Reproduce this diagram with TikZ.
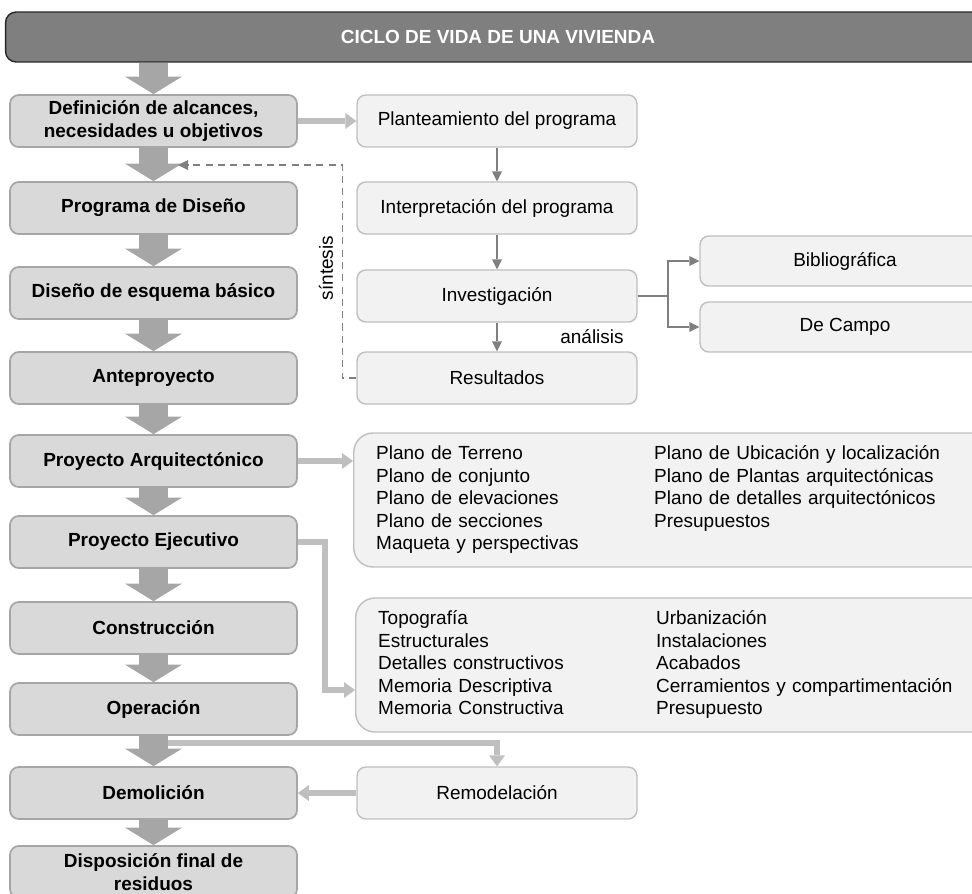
\documentclass[tikz,border=0pt]{standalone}
\usepackage{fontspec}
\setmainfont{Liberation Sans}
\usetikzlibrary{arrows.meta,calc}
\definecolor{hdrgray}{HTML}{7F7F7F}
\definecolor{stagefill}{HTML}{D9D9D9}
\definecolor{stageline}{HTML}{A6A6A6}
\definecolor{subfill}{HTML}{F2F2F2}
\definecolor{subline}{HTML}{BFBFBF}
\definecolor{fatgray}{HTML}{A6A6A6}
\definecolor{linkgray}{HTML}{BFBFBF}
\definecolor{flowgray}{HTML}{7F7F7F}
\newcommand{\boxfont}{\fontsize{10.8}{12.8}\selectfont}

\begin{document}
\begin{tikzpicture}[x=0.02cm, y=-0.02cm,
    header/.style={rectangle, rounded corners=6pt, draw=black!85, line width=0.8pt,
                   fill=hdrgray, text=white, font=\boxfont\bfseries,
                   minimum width=19.7cm, minimum height=1cm},
    stagebox/.style={rectangle, rounded corners=5pt, draw=stageline, line width=1pt,
                     fill=stagefill, minimum width=5.74cm, minimum height=1.04cm,
                     align=center, font=\boxfont\bfseries},
    subbox/.style={rectangle, rounded corners=5pt, draw=subline, line width=0.8pt,
                   fill=subfill, minimum width=5.6cm, minimum height=1.04cm,
                   align=center, font=\boxfont},
    listbox/.style={subbox, rounded corners=11pt, anchor=west, minimum width=12.8cm,
                    minimum height=2.68cm, inner xsep=0.44cm, text width=11.9cm, align=left},
    bigarrow/.style={draw=fatgray, line width=0.58cm,
                     -{Triangle[length=0.35cm,width=1.14cm,line width=0pt]}},
    link/.style={draw=linkgray, line width=0.11cm,
                 -{Triangle[length=0.22cm,width=0.32cm,line width=0pt]}},
    flow/.style={draw=flowgray, line width=0.7pt,
                 -{Triangle[length=0.2cm,width=0.2cm,line width=0pt]}},
    synth/.style={flow, dash pattern=on 4pt off 3pt}
]
\clip (0,0) rectangle (972,893);

\node[header] (hdr) at (498,37) {CICLO DE VIDA DE UNA VIVIENDA};

\node[stagebox] (def) at (153.5,121) {Definición de alcances,\\necesidades u objetivos};
\node[stagebox] (prog) at (153.5,208) {Programa de Diseño};
\node[stagebox] (esq) at (153.5,293) {Diseño de esquema básico};
\node[stagebox] (ante) at (153.5,378) {Anteproyecto};
\node[stagebox] (arq) at (153.5,461) {Proyecto Arquitectónico};
\node[stagebox] (ejec) at (153.5,542) {Proyecto Ejecutivo};
\node[stagebox] (cons) at (153.5,628) {Construcción};
\node[stagebox] (oper) at (153.5,709) {Operación};
\node[stagebox] (demo) at (153.5,793) {Demolición};
\node[stagebox] (disp) at (153.5,872) {Disposición final de\\residuos};

\node[subbox] (plant) at (497,121) {Planteamiento del programa};
\node[subbox] (interp) at (497,208) {Interpretación del programa};
\node[subbox] (inv) at (497,296) {Investigación};
\node[subbox] (res) at (497,378) {Resultados};
\node[subbox] (remo) at (497,793) {Remodelación};
\node[subbox, minimum width=5.8cm, minimum height=1cm] (biblio) at (845,261) {Bibliográfica};
\node[subbox, minimum width=5.8cm, minimum height=1cm] (campo) at (845,327) {De Campo};

\node[listbox] (planos) at (353,500) {%
  \begin{tabular}{@{}p{5.56cm}@{}l@{}}
  Plano de Terreno & Plano de Ubicación y localización\\
  Plano de conjunto & Plano de Plantas arquitectónicas\\
  Plano de elevaciones & Plano de detalles arquitectónicos\\
  Plano de secciones & Presupuestos\\
  Maqueta y perspectivas &
  \end{tabular}};
\node[listbox] (detalles) at (355,665) {%
  \begin{tabular}{@{}p{5.56cm}@{}l@{}}
  Topografía & Urbanización\\
  Estructurales & Instalaciones\\
  Detalles constructivos & Acabados\\
  Memoria Descriptiva & Cerramientos y compartimentación\\
  Memoria Constructiva & Presupuesto
  \end{tabular}};

\node[font=\boxfont] (anal) at (592,337) {análisis};
\node[font=\boxfont, rotate=90] (sint) at (326,268) {síntesis};

\draw[link] ($(oper.south)+(0,7)$) -| (remo.north);

\draw[bigarrow] (hdr.south -| def.north) -- (def.north);
\foreach \a/\b in {def/prog, prog/esq, esq/ante, ante/arq, arq/ejec,
                   ejec/cons, cons/oper, oper/demo, demo/disp}
  \draw[bigarrow] (\a) -- (\b);

\draw[link] (def) -- (plant);
\draw[link] (arq.east) -- (arq.east -| planos.west);
\coordinate (ejturn) at (325,690);
\draw[link] (ejec.east) -| (ejturn) -- (ejturn -| detalles.west);
\draw[link] (remo) -- (demo);

\draw[flow] (plant) -- (interp);
\draw[flow] (interp) -- (inv);
\draw[flow] (inv) -- (res);
\coordinate (fork) at (668,296);
\draw[draw=flowgray, line width=0.7pt] (inv.east) -- (fork);
\draw[flow] (fork) |- (biblio.west);
\draw[flow] (fork) |- (campo.west);

\coordinate (synend) at (178,165);
\draw[synth] (res.west) -- ++(-14,0) |- (synend);
\end{tikzpicture}
\end{document}
